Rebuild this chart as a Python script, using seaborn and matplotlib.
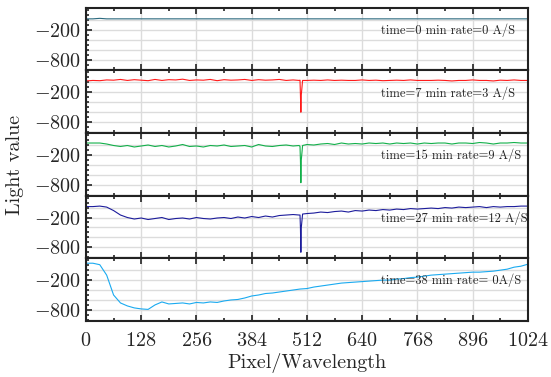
import numpy as np
import pandas as pd
import matplotlib
matplotlib.use("Agg")
import matplotlib.pyplot as plt
import seaborn as sns
from matplotlib.ticker import MultipleLocator

# pixel grid (every 16 px) and the narrow absorption dip near pixel 498
pixel = np.arange(0, 1025, 16)
dip_pixel = [494, 497, 498, 499, 502]

light_t0 = [20, 20, 30, 20, 20, 20, 20, 20, 20, 20,
            20, 20, 20, 20, 20, 20, 20, 20, 20, 20,
            20, 20, 20, 20, 20, 20, 20, 20, 20, 20,
            20, 20, 20, 20, 20, 20, 20, 20, 20, 20,
            20, 20, 20, 20, 20, 20, 20, 20, 20, 20,
            20, 20, 20, 20, 20, 20, 20, 20, 20, 20,
            20, 20, 20, 20, 20]
light_t7 = [30, 40, 35, 50, 45, 60, 40, 55, 45, 35,
            60, 40, 55, 50, 65, 40, 50, 45, 60, 35,
            55, 45, 50, 60, 40, 55, 45, 50, 60, 40,
            50, 45, 40, 45, 40, 50, 40, 45, 40, 40,
            50, 40, 45, 35, 40, 45, 40, 50, 40, 40,
            40, 45, 40, 30, 40, 40, 50, 40, 40, 30,
            45, 40, 50, 40, 40]
dip_t7 = [40, -250, -600, -250, 40]
light_t15 = [40, 40, 40, 20, -10, -30, -10, -40, -20, 0,
             -30, -10, -40, -20, 10, -30, -20, -40, -10, -20,
             0, -30, -20, -10, -40, 10, -20, -30, -10, 0,
             -20, -30, 10, 0, 20, 30, 10, 40, 20, 30,
             20, 40, 30, 40, 20, 40, 30, 40, 20, 40,
             30, 40, 40, 20, 40, 40, 30, 50, 40, 20,
             40, 40, 50, 40, 40]
dip_t15 = [-10, -300, -760, -300, -10]
light_t27 = [20, 20, 30, 10, -60, -150, -200, -230, -210, -240,
             -220, -200, -240, -220, -210, -230, -200, -220, -230, -210,
             -200, -220, -190, -210, -180, -200, -170, -190, -160, -150,
             -140, -150, -120, -110, -90, -100, -80, -70, -90, -60,
             -70, -50, -60, -40, -50, -30, -40, -20, -30, -20,
             -10, -20, 0, -10, 10, 0, 10, 20, 0, 20,
             10, 20, 20, 30, 30]
dip_t27 = [-150, -400, -900, -400, -130]
light_t38 = [140, 140, 110, -100, -500, -660, -720, -760, -780, -790,
             -700, -640, -680, -670, -660, -680, -650, -660, -640, -650,
             -620, -600, -590, -560, -520, -500, -470, -460, -440, -420,
             -400, -380, -370, -340, -320, -300, -280, -260, -250, -240,
             -230, -220, -210, -200, -200, -180, -170, -150, -140, -120,
             -100, -90, -80, -70, -60, -50, -40, -40, -30, -20,
             0, 20, 60, 80, 120]

labels = ["time=0 min rate=0 A/S", "time=7 min rate=3 A/S",
          "time=15 min rate=9 A/S", "time=27 min rate=12 A/S",
          "time=38 min rate= 0A/S"]
colors = ["#2b6a7f", "#ff1a1a", "#12b04a", "#1c1c9c", "#1aaaf0"]
x_ticks = [0, 128, 256, 384, 512, 640, 768, 896, 1024]
y_ticks = [-800, -200]
grid_levels = [-1000, -800, -600, -400, -200, 0]

sns.set_style("ticks")
plt.rcParams['font.family'] = 'serif'
plt.rcParams['font.serif'] = ['cmr10']
plt.rcParams['mathtext.fontset'] = 'cm'
plt.rcParams['axes.formatter.use_mathtext'] = True

fig, axes = plt.subplots(5, 1, figsize=(5.51, 3.77), dpi=100, sharex=True)
fig.subplots_adjust(left=0.156, right=0.958, top=0.979, bottom=0.149, hspace=0)

panels = [(light_t0, None), (light_t7, dip_t7), (light_t15, dip_t15),
          (light_t27, dip_t27), (light_t38, None)]

for ax, (vals, dip), color, label in zip(axes, panels, colors, labels):
    x = list(pixel)
    y = list(vals)
    if dip is not None:
        x += dip_pixel
        y += dip
    df = pd.DataFrame({'pixel': x, 'light': y}).sort_values('pixel')
    sns.lineplot(data=df, x='pixel', y='light', ax=ax, color=color, lw=0.8)

    ax.set_xlim(0, 1024)
    ax.set_ylim(-1020, 240)
    for lv in grid_levels:
        ax.axhline(lv, color='#dcdcdc', lw=1, zorder=0)
    ax.set_xticks(x_ticks)
    ax.grid(axis='x', color='#dcdcdc', lw=1)
    ax.set_axisbelow(True)
    ax.set_yticks(y_ticks, labels=[r'$-800$', r'$-200$'])
    ax.xaxis.set_minor_locator(MultipleLocator(64))
    ax.yaxis.set_minor_locator(MultipleLocator(100))
    ax.tick_params(which='both', direction='in', top=True, right=False,
                   color='#222222', width=1.2)
    ax.tick_params(which='major', length=4, labelsize=14.5)
    ax.tick_params(which='minor', length=2.5)
    for s in ax.spines.values():
        s.set_color('#222222')
        s.set_linewidth(1.5)
    ax.set_xlabel('')
    ax.set_ylabel('')
    ax.text(683, -210, label, fontsize=9, va='center', ha='left', color='#222222')

axes[-1].tick_params(axis='x', which='major', pad=8)
axes[-1].set_xlabel('Pixel/Wavelength', fontsize=14.5, labelpad=2)
fig.text(0.028, 0.5637, 'Light value', rotation=90, fontsize=14.5,
         va='center', ha='center')

fig.savefig('out.png', dpi=100)
